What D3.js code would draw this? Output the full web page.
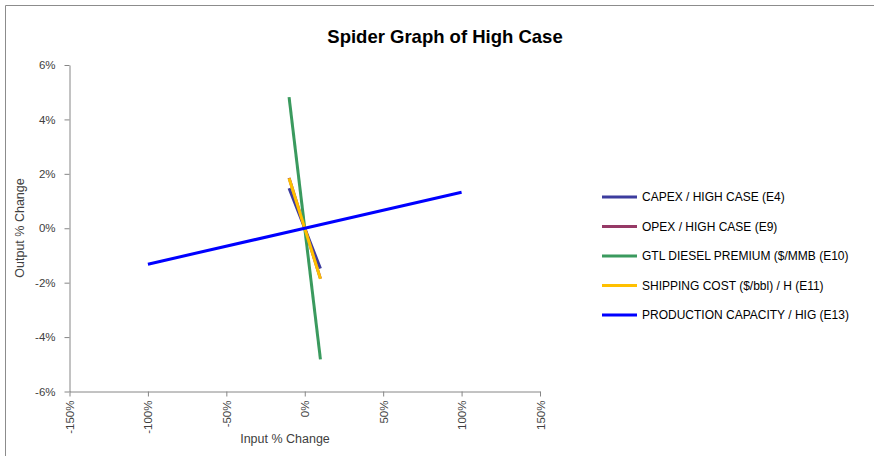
<!DOCTYPE html>
<html>
<head>
<meta charset="utf-8">
<script src="https://cdn.jsdelivr.net/npm/d3@7"></script>
<style>
  html, body { margin: 0; padding: 0; background: #fff; }
  svg { display: block; font-family: "Liberation Sans", Arial, sans-serif; }
</style>
</head>
<body>
<svg id="chart" width="874" height="456"></svg>
<script>
// ---- data ----
const seriesNames = [
  "CAPEX / HIGH CASE (E4)",
  "OPEX / HIGH CASE (E9)",
  "GTL DIESEL PREMIUM ($/MMB (E10)",
  "SHIPPING COST ($/bbl) / H (E11)",
  "PRODUCTION CAPACITY / HIG (E13)"
];
const seriesColors = ["#3C3C9E", "#963A66", "#3A9A5E", "#FFC000", "#0000FF"];
const capexX = [-0.10, 0, 0.10];
const capexY = [0.0147, 0, -0.0148];
const opexX = [-0.10, 0, 0.10];
const opexY = [0.0185, 0, -0.0185];
const gtlX = [-0.10, 0, 0.10];
const gtlY = [0.0482, 0, -0.0482];
const shipX = [-0.10, 0, 0.10];
const shipY = [0.0184, 0, -0.0186];
const prodX = [-1.00, 0, 1.00];
const prodY = [-0.0132, 0, 0.0132];
const xTicks = [-1.5, -1.0, -0.5, 0, 0.5, 1.0, 1.5];
const yTicks = [-0.06, -0.04, -0.02, 0, 0.02, 0.04, 0.06];

const seriesX = [capexX, opexX, gtlX, shipX, prodX];
const seriesY = [capexY, opexY, gtlY, shipY, prodY];
const series = seriesNames.map((n, i) => ({
  name: n, color: seriesColors[i],
  pts: seriesX[i].map((x, j) => ({ x: x, y: seriesY[i][j] }))
}));

const pct = d => Math.round(d * 100) + "%";

const svg = d3.select("#chart");
const axisColor = "#868686";
const textColor = "#404040";

// outer frame
svg.append("path").attr("d", "M5.5,456 L5.5,5.5 L874,5.5")
  .attr("fill", "none").attr("stroke", "#8c8c8c").attr("stroke-width", 1);

const x = d3.scaleLinear().domain([-1.5, 1.5]).range([69.5, 540]);
const y = d3.scaleLinear().domain([-0.06, 0.06]).range([391.5, 65]);

// title
svg.append("text").attr("x", 445).attr("y", 43).attr("text-anchor", "middle")
  .attr("font-size", 18.5).attr("font-weight", "bold").attr("fill", "#000")
  .text("Spider Graph of High Case");

// y axis
const yAxis = svg.append("g").attr("transform", "translate(69.5,0)")
  .call(d3.axisLeft(y).tickValues(yTicks).tickFormat(pct).tickSize(5).tickSizeOuter(0));
yAxis.select(".domain").attr("stroke", axisColor);
yAxis.selectAll(".tick line").attr("stroke", axisColor);
yAxis.selectAll(".tick text").attr("fill", textColor).attr("font-size", 11.5)
  .attr("font-family", "Liberation Sans, Arial, sans-serif").attr("x", -14);

// x axis
const xAxis = svg.append("g").attr("transform", "translate(0,391.5)")
  .call(d3.axisBottom(x).tickValues(xTicks).tickFormat(pct).tickSize(5).tickSizeOuter(0));
xAxis.select(".domain").attr("stroke", axisColor);
xAxis.selectAll(".tick line").attr("stroke", axisColor);
xAxis.selectAll(".tick text").attr("fill", textColor).attr("font-size", 11.5)
  .attr("font-family", "Liberation Sans, Arial, sans-serif")
  .attr("transform", "rotate(-90)")
  .attr("x", -9).attr("y", 0).attr("dy", "0.35em")
  .attr("text-anchor", "end");

// axis titles
svg.append("text").attr("transform", "translate(24,228) rotate(-90)")
  .attr("text-anchor", "middle").attr("font-size", 12.5).attr("fill", textColor)
  .text("Output % Change");
svg.append("text").attr("x", 285).attr("y", 443).attr("text-anchor", "middle")
  .attr("font-size", 12.5).attr("fill", textColor).text("Input % Change");

// lines
const line = d3.line().x(d => x(d.x)).y(d => y(d.y));
svg.append("g").selectAll("path").data(series).join("path")
  .attr("d", d => line(d.pts)).attr("fill", "none")
  .attr("stroke", d => d.color).attr("stroke-width", 3);

// legend
const lg = svg.append("g");
series.forEach((s, i) => {
  const yy = 197 + i * 29.5;
  lg.append("line").attr("x1", 602).attr("x2", 637).attr("y1", yy).attr("y2", yy)
    .attr("stroke", s.color).attr("stroke-width", 3);
  lg.append("text").attr("x", 642).attr("y", yy).attr("dy", "0.35em")
    .attr("font-size", 12).attr("fill", "#000").text(s.name);
});
</script>
</body>
</html>
